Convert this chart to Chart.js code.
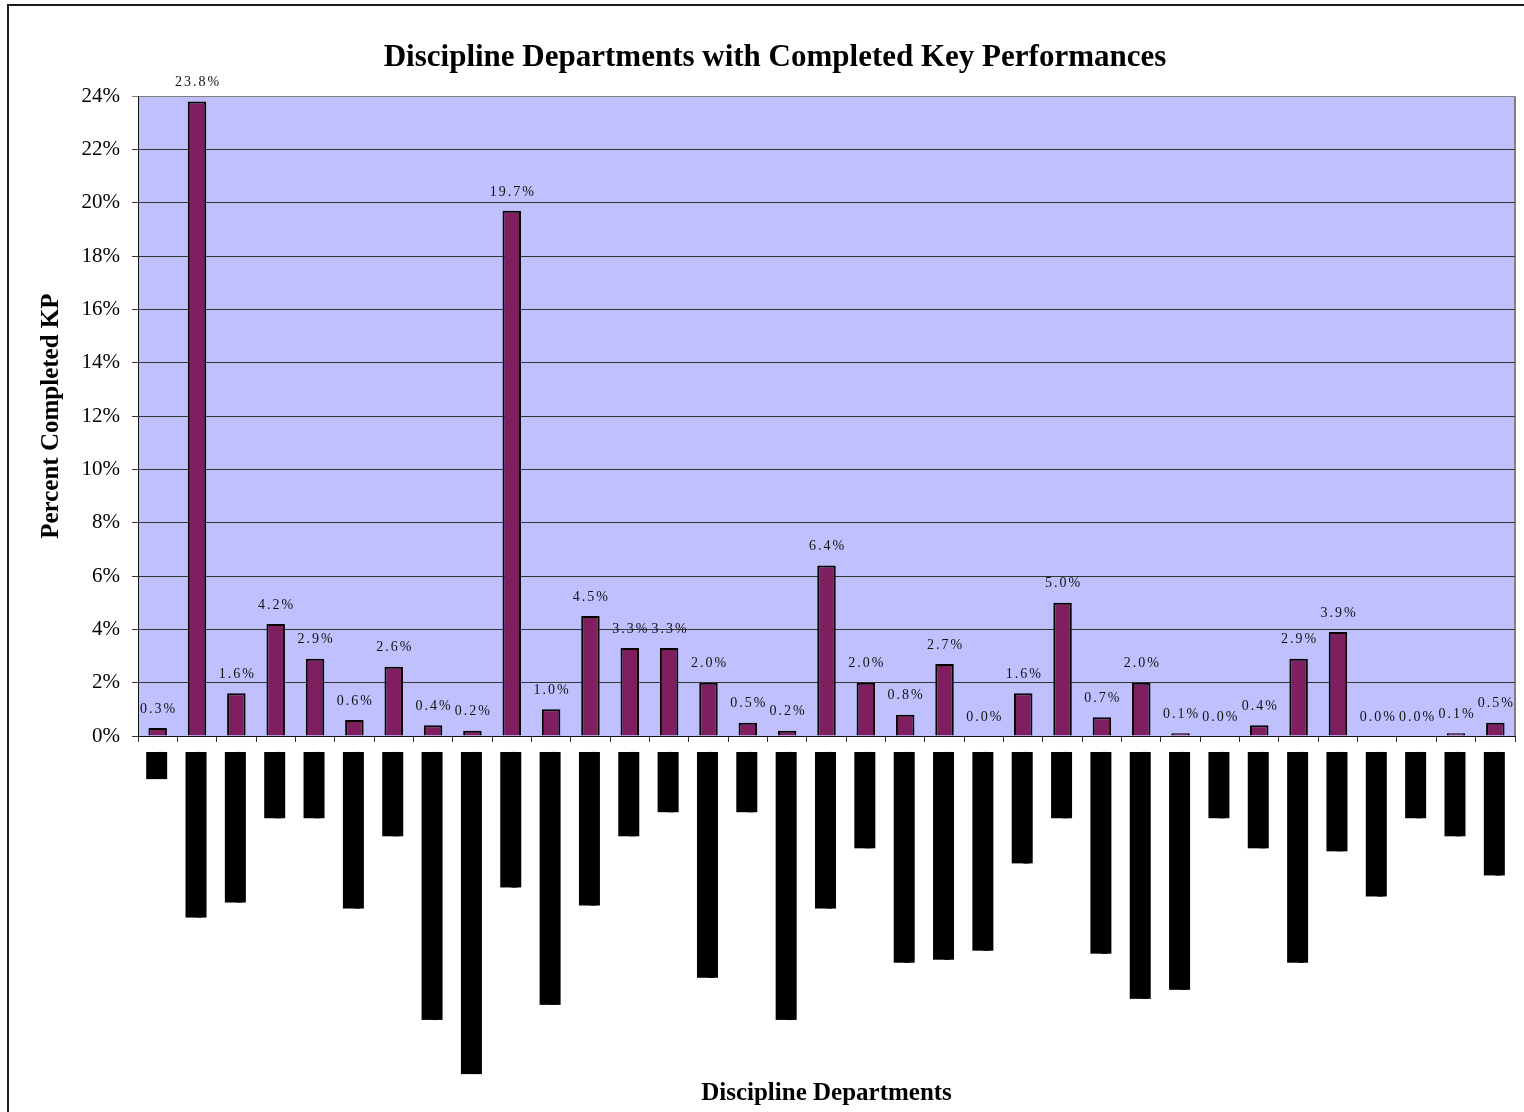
<!DOCTYPE html>
<html>
<head>
<meta charset="utf-8">
<script src="https://cdn.jsdelivr.net/npm/chart.js@4/dist/chart.umd.min.js"></script>
<style>
  html, body { margin: 0; padding: 0; background: #fff; overflow: hidden; }
  #frame { position: absolute; left: 7px; top: 4px; width: 1600px; height: 1200px;
           border-top: 2px solid #1a1a1a; border-left: 2px solid #1a1a1a; }
  #wrap { position: absolute; left: 9px; top: 6px; width: 1533px; height: 1106px; }
</style>
</head>
<body>
<div id="frame"></div>
<div id="wrap"><canvas id="chart"></canvas></div>
<script>
// percent of completed key performances per department
const values = [0.3, 23.8, 1.6, 4.2, 2.9, 0.6, 2.6, 0.4, 0.2, 19.7, 1.0, 4.5, 3.3, 3.3, 2.0, 0.5, 0.2,
                6.4, 2.0, 0.8, 2.7, 0.0, 1.6, 5.0, 0.7, 2.0, 0.1, 0.0, 0.4, 2.9, 3.9, 0.0, 0.0, 0.1, 0.5];
// department names are blacked out in the source; length of each hidden name (redaction glyphs)
const hiddenLabelLen = [9, 55, 50, 22, 22, 52, 28, 89, 107, 45, 84, 51, 28, 20, 75, 20, 89,
                        52, 32, 70, 69, 66, 37, 22, 67, 82, 79, 22, 32, 70, 33, 48, 22, 28, 41];
const yTicks = [0, 2, 4, 6, 8, 10, 12, 14, 16, 18, 20, 22, 24];

const labels = hiddenLabelLen.map(n => '\u2588'.repeat(n));

const serif = '"Liberation Serif", "Times New Roman", serif';

// plot background + right border
const plotBg = {
  id: 'plotBg',
  beforeDraw(chart) {
    const { ctx, chartArea: a } = chart;
    ctx.save();
    ctx.fillStyle = '#c0c0ff';
    ctx.fillRect(a.left, a.top, a.right - a.left, a.bottom - a.top);
    ctx.strokeStyle = '#808080';
    ctx.lineWidth = 2;
    ctx.beginPath();
    ctx.moveTo(a.right, a.top);
    ctx.lineTo(a.right, a.bottom);
    ctx.stroke();
    ctx.restore();
  }
};

// value labels above each bar
const valueLabels = {
  id: 'valueLabels',
  afterDatasetsDraw(chart) {
    const { ctx } = chart;
    const meta = chart.getDatasetMeta(0);
    ctx.save();
    ctx.font = '14px ' + serif;
    ctx.fillStyle = '#111';
    ctx.textAlign = 'center';
    ctx.textBaseline = 'middle';
    ctx.letterSpacing = '2px';
    meta.data.forEach((bar, i) => {
      ctx.fillText(values[i].toFixed(1) + '%', bar.x + 1, bar.y - 19);
    });
    ctx.restore();
  }
};

new Chart(document.getElementById('chart'), {
  type: 'bar',
  data: {
    labels,
    datasets: [{
      data: values,
      backgroundColor: '#801f5f',
      borderColor: '#000',
      borderWidth: 2,
      barPercentage: 0.47,
      categoryPercentage: 1
    }]
  },
  options: {
    responsive: true,
    maintainAspectRatio: false,
    animation: false,
    layout: { padding: { left: 26, right: 27, top: 0, bottom: 0 } },
    plugins: {
      legend: { display: false },
      tooltip: { enabled: false },
      title: {
        display: true,
        text: 'Discipline Departments with Completed Key Performances',
        color: '#000',
        font: { family: serif, size: 31, weight: 'bold' },
        padding: { top: 33, bottom: 20 }
      }
    },
    scales: {
      x: {
        afterFit(scale) { scale.height = 376; },
        grid: {
          offset: true,
          drawOnChartArea: false,
          drawTicks: true,
          tickLength: 6,
          color: '#333'
        },
        border: { display: true, color: '#111', width: 1 },
        ticks: {
          autoSkip: false,
          minRotation: 90,
          maxRotation: 90,
          padding: 10,
          color: '#000',
          font: { family: '"DejaVu Sans Mono", monospace', size: 5 },
          showLabelBackdrop: true,
          backdropColor: '#000',
          backdropPadding: { top: 11.5, bottom: 3.5, left: 0, right: 0 }
        },
        title: {
          display: true,
          text: 'Discipline Departments',
          color: '#000',
          font: { family: serif, size: 25, weight: 'bold' },
          padding: { top: 0, bottom: 3 }
        }
      },
      y: {
        min: 0,
        max: 24,
        afterFit(scale) { scale.width = 103; },
        afterBuildTicks(scale) { scale.ticks = yTicks.map(v => ({ value: v })); },
        grid: {
          color: c => (c.tick && c.tick.value === 24 ? '#808080' : '#333'),
          drawTicks: true,
          tickLength: 6
        },
        border: { display: true, color: '#111', width: 1 },
        ticks: {
          padding: 12,
          color: '#000',
          font: { family: serif, size: 21 },
          callback: v => v + '%'
        },
        title: {
          display: true,
          text: 'Percent Completed KP',
          color: '#000',
          font: { family: serif, size: 25, weight: 'bold' },
          padding: { top: 2, bottom: 0 }
        }
      }
    }
  },
  plugins: [plotBg, valueLabels]
});
</script>
</body>
</html>
